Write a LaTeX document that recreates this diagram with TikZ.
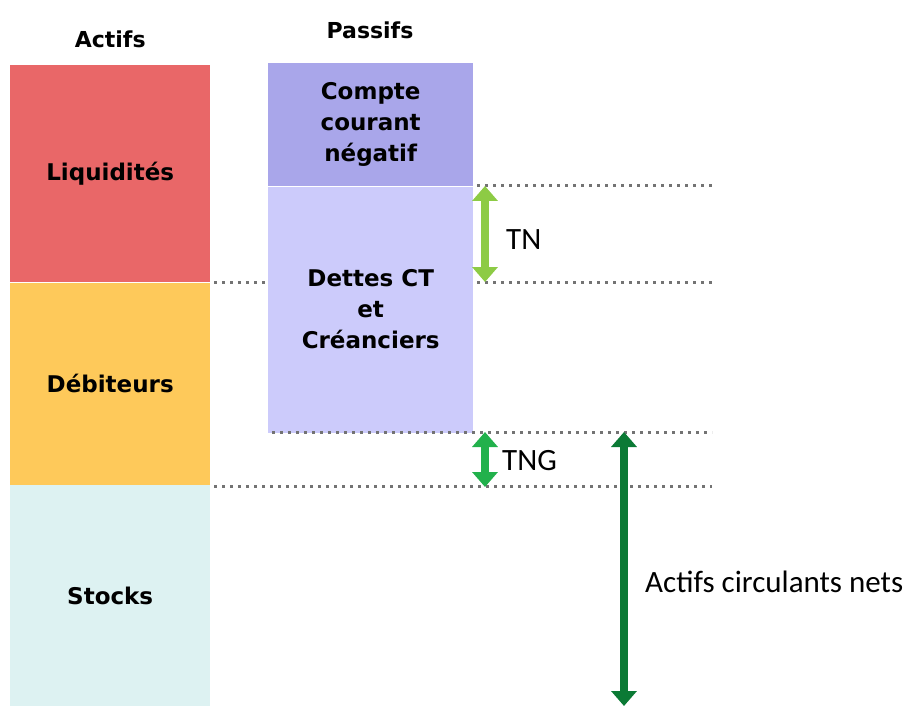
\documentclass[tikz,border=0pt]{standalone}
\usepackage{fontspec}
\setmainfont{DejaVu Sans}
\newfontfamily\labelfont{Carlito}
\usetikzlibrary{positioning}
\usetikzlibrary{arrows.meta}
\definecolor{liquid}{HTML}{E96768}
\definecolor{debit}{HTML}{FEC95A}
\definecolor{stock}{HTML}{DDF2F2}
\definecolor{compte}{HTML}{A9A6EA}
\definecolor{dettes}{HTML}{CCCBFB}
\definecolor{tngreen}{HTML}{8DCB45}
\definecolor{tnggreen}{HTML}{22B14C}
\definecolor{acngreen}{HTML}{0B7A35}
\tikzset{
        blocknode/.style={align=center,inner sep=0pt,font=\fontsize{23}{31}\selectfont\bfseries},
        % Actifs blocks
        node_actif/.style={blocknode, rectangle, minimum width=200pt},
        % Passifs blocks
        node_passif/.style={blocknode, rectangle, minimum width=205pt},
        % Column headings
        node_head/.style={font=\fontsize{22}{26}\selectfont\bfseries, inner sep=0pt},
        % Side labels
        node_label/.style={font=\labelfont\fontsize{31}{35}\selectfont, anchor=west, inner sep=0pt},
        % Dotted guide lines
        guide/.style={gray!90!black, line width=3pt, dash pattern=on 3pt off 5pt},
        % Double arrows
        span/.style={line width=8pt, {Triangle[width=25pt,length=15pt]}-{Triangle[width=25pt,length=15pt]}}
}
\begin{document}
\begin{tikzpicture}[x=1pt,y=-1pt]
            \useasboundingbox (0,0) rectangle (911,706);
            % Actifs
            \node[node_actif, fill=liquid, minimum height=217pt, anchor=north west] (liq) at (10,65) {Liquidités};
            \node[node_actif, fill=debit, minimum height=202pt, below=0pt of liq] (deb) {Débiteurs};
            \node[node_actif, fill=stock, minimum height=222pt, below=0pt of deb] (sto) {Stocks};
            % Passifs
            \node[node_passif, fill=compte, minimum height=123pt, anchor=north west] (cc) at (268,63) {Compte\\courant\\négatif};
            \node[node_passif, fill=dettes, minimum height=246pt, below=0pt of cc] (dct) {Dettes CT\\et\\Créanciers};
            % Headings
            \node[node_head, above=17pt of liq] (actifs) {Actifs};
            \node[node_head] (passifs) at (370,30) {Passifs};
            % Guide lines
            \coordinate (g1) at (712,186);
            \coordinate (g2) at (712,282);
            \coordinate (g3) at (712,432);
            \coordinate (g4) at (712,486);
            \draw[guide] (cc.east |- g1) ++(4pt,0) -- (g1);
            \draw[guide] (liq.east |- g2) ++(4pt,0) -- (dct.west |- g2);
            \draw[guide] (dct.east |- g2) ++(4pt,0) -- (g2);
            \draw[guide] (dct.west |- g3) ++(4pt,0) -- (g3);
            \draw[guide] (deb.east |- g4) ++(4pt,0) -- (g4);
            % Arrows
            \coordinate (tn1) at (485,186);
            \coordinate (tn2) at (485,282);
            \coordinate (tng1) at (485,432);
            \coordinate (tng2) at (485,487);
            \coordinate (acn1) at (624,432);
            \coordinate (acn2) at (624,706);
            \draw[span, tngreen] (tn1) -- (tn2);
            \draw[span, tnggreen] (tng1) -- (tng2);
            \draw[span, acngreen] (acn1) -- (acn2);
            % Labels
            \node[node_label] (tn) at (506,240) {TN};
            \node[node_label] (tng) at (502,461) {TNG};
            \node[node_label] (acn) at (645,582) {Actifs circulants nets};
\end{tikzpicture}
\end{document}
